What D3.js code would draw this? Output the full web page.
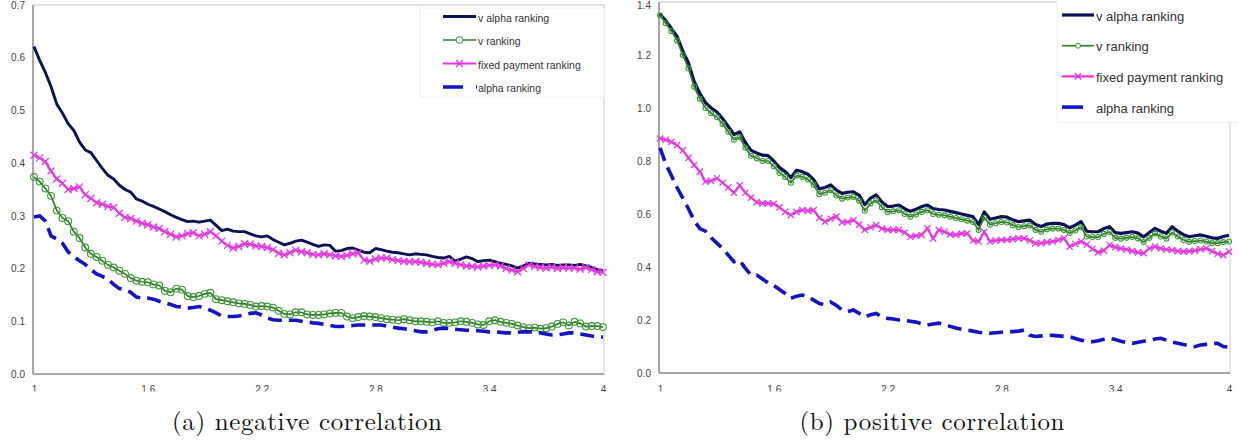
<!DOCTYPE html>
<html>
<head>
<meta charset="utf-8">
<script src="https://cdn.jsdelivr.net/npm/d3@7"></script>
<style>
  body { margin: 0; background: #fff; }
  svg { display: block; }
</style>
</head>
<body>
<div id="chart"></div>
<script>
// x grid of the runs: 101 points from 1 to 4 (step 0.03)
var xValues = d3.range(101).map(function(i) { return 1 + i * 0.03; });
var xTickLabels = [1, 1.6, 2.2, 2.8, 3.4, 4];
var seriesNames = ["v alpha ranking", "v ranking", "fixed payment ranking", "alpha ranking"];

var negTicks = [0, 0.1, 0.2, 0.3, 0.4, 0.5, 0.6, 0.7];
var posTicks = [0, 0.2, 0.4, 0.6, 0.8, 1.0, 1.2, 1.4];

// (a) negative correlation
var negVAlpha = [
  .621, .595, .572, .545, .512, .495, .475, .462, .440, .425,
  .420, .405, .390, .377, .370, .358, .350, .345, .332, .328,
  .322, .318, .313, .308, .302, .297, .293, .289, .290, .288,
  .290, .292, .282, .272, .275, .271, .270, .270, .266, .262,
  .260, .262, .255, .250, .245, .248, .252, .254, .250, .246,
  .242, .245, .244, .233, .234, .238, .239, .235, .231, .230,
  .238, .236, .233, .231, .230, .228, .226, .228, .227, .226,
  .223, .221, .220, .223, .214, .218, .222, .219, .213, .215,
  .216, .213, .210, .208, .205, .201, .205, .210, .209, .208,
  .207, .208, .206, .207, .207, .206, .208, .205, .202, .198, .196];

var negV = [
  .374, .365, .352, .338, .310, .296, .290, .270, .258, .240,
  .228, .222, .215, .207, .202, .196, .190, .182, .177, .175,
  .174, .170, .168, .158, .155, .162, .160, .148, .146, .148,
  .152, .154, .142, .140, .138, .136, .134, .133, .131, .128,
  .129, .128, .126, .120, .114, .113, .117, .117, .113, .112,
  .112, .113, .115, .116, .116, .109, .106, .108, .110, .109,
  .108, .106, .104, .103, .102, .104, .102, .100, .100, .099,
  .098, .100, .097, .097, .098, .100, .099, .097, .094, .093,
  .100, .102, .099, .097, .095, .092, .089, .087, .088, .086,
  .087, .090, .095, .098, .092, .099, .096, .090, .091, .091, .089];

var negFixed = [
  .415, .410, .403, .385, .370, .362, .350, .352, .355, .340,
  .333, .325, .322, .318, .316, .305, .297, .295, .290, .286,
  .283, .279, .276, .270, .265, .260, .262, .266, .268, .262,
  .265, .270, .262, .252, .244, .239, .242, .247, .246, .243,
  .242, .240, .236, .229, .226, .230, .235, .232, .230, .227,
  .226, .228, .226, .224, .223, .225, .228, .230, .216, .214,
  .218, .220, .220, .217, .215, .214, .213, .213, .212, .210,
  .208, .207, .210, .213, .210, .207, .205, .204, .203, .205,
  .206, .207, .205, .200, .197, .194, .200, .207, .204, .202,
  .201, .203, .200, .202, .201, .201, .199, .202, .198, .194, .193];

var negAlpha = [
  .298, .300, .290, .262, .256, .248, .232, .222, .215, .208,
  .198, .190, .185, .180, .170, .162, .160, .155, .146, .144,
  .144, .142, .138, .135, .132, .128, .127, .125, .126, .128,
  .125, .121, .116, .110, .109, .109, .110, .112, .115, .116,
  .112, .106, .103, .102, .102, .102, .102, .100, .099, .097,
  .096, .094, .092, .090, .090, .091, .092, .093, .093, .093,
  .093, .093, .091, .089, .087, .086, .084, .082, .080, .080,
  .083, .086, .087, .086, .085, .084, .083, .083, .082, .081,
  .080, .080, .079, .078, .078, .079, .080, .080, .080, .078,
  .076, .074, .074, .076, .078, .078, .076, .074, .072, .071, .070];

// (b) positive correlation
var posVAlpha = [
  1.355, 1.330, 1.300, 1.270, 1.215, 1.170, 1.100, 1.055, 1.020, 1.000,
  .985, .960, .930, .900, .910, .870, .840, .830, .822, .820,
  .800, .775, .760, .737, .765, .760, .750, .730, .695, .700,
  .710, .690, .678, .682, .684, .670, .635, .660, .672, .645,
  .628, .630, .634, .620, .610, .618, .628, .634, .620, .617,
  .615, .610, .605, .600, .595, .590, .560, .608, .580, .585,
  .590, .588, .578, .571, .574, .577, .560, .553, .562, .565,
  .565, .560, .548, .558, .571, .535, .533, .533, .545, .552,
  .530, .527, .530, .533, .528, .514, .530, .546, .535, .527,
  .552, .535, .522, .514, .518, .521, .516, .510, .508, .515, .520];

var posV = [
  1.350, 1.320, 1.290, 1.255, 1.200, 1.150, 1.080, 1.035, 1.000, .980,
  .965, .940, .910, .880, .890, .850, .820, .810, .800, .800,
  .780, .755, .740, .718, .745, .740, .730, .710, .675, .680,
  .690, .670, .658, .662, .664, .650, .612, .640, .652, .625,
  .608, .610, .614, .600, .590, .598, .608, .614, .600, .597,
  .595, .590, .585, .580, .575, .570, .540, .586, .560, .565,
  .570, .568, .558, .551, .554, .557, .540, .533, .542, .545,
  .545, .540, .528, .538, .550, .515, .513, .513, .525, .532,
  .510, .507, .510, .513, .508, .494, .510, .526, .515, .507,
  .530, .515, .502, .495, .498, .500, .496, .490, .490, .494, .496];

var posFixed = [
  .885, .880, .872, .860, .840, .812, .785, .760, .722, .725,
  .735, .718, .700, .680, .708, .680, .662, .645, .640, .640,
  .638, .625, .608, .596, .608, .615, .612, .615, .585, .571,
  .582, .590, .568, .570, .577, .560, .540, .550, .558, .545,
  .540, .540, .540, .530, .514, .518, .521, .546, .508, .540,
  .533, .523, .521, .526, .527, .500, .496, .533, .496, .500,
  .502, .502, .505, .508, .508, .500, .489, .490, .494, .496,
  .502, .508, .477, .487, .496, .485, .468, .455, .462, .483,
  .475, .470, .466, .460, .455, .452, .470, .477, .470, .466,
  .464, .460, .458, .460, .462, .467, .470, .460, .450, .445, .458];

var posAlpha = [
  .850, .790, .745, .700, .660, .620, .575, .545, .535, .510,
  .490, .470, .445, .420, .425, .395, .370, .370, .355, .340,
  .330, .315, .300, .282, .290, .294, .288, .275, .262, .258,
  .268, .255, .238, .232, .238, .225, .212, .220, .225, .212,
  .206, .204, .200, .198, .195, .192, .186, .181, .185, .188,
  .182, .176, .170, .165, .162, .158, .154, .151, .150, .152,
  .154, .156, .156, .158, .162, .142, .138, .140, .143, .142,
  .140, .138, .137, .130, .124, .120, .118, .122, .127, .131,
  .126, .120, .115, .112, .116, .120, .124, .128, .131, .124,
  .117, .112, .108, .102, .099, .106, .108, .110, .112, .100, .098];

var width = 1239;
var height = 442;

var svg = d3.select("#chart")
  .append("svg")
    .attr("width", width)
    .attr("height", height);

// x labels are cut at the bottom in the original
svg.append("clipPath")
    .attr("id", "xlabel-clip")
  .append("rect")
    .attr("x", 0)
    .attr("y", 378)
    .attr("width", width)
    .attr("height", 13.5);

function crossPath(s) {
  return "M" + (-s) + "," + (-s) + "L" + s + "," + s + "M" + (-s) + "," + s + "L" + s + "," + (-s);
}

function drawPanel(p, vAlpha, v, fixed, alpha) {
  var g = svg.append("g");

  var x = d3.scaleLinear().domain([1, 4]).range([p.left + 1, p.right - 1]);
  var y = d3.scaleLinear().domain([0, p.yMax]).range([p.bottom, p.top]);

  // frame: light top/right border, darker left/bottom axes
  g.append("line")
    .attr("x1", p.left).attr("x2", p.right)
    .attr("y1", p.top).attr("y2", p.top)
    .attr("stroke", "#c4c4c4").attr("stroke-width", 1.2);
  g.append("line")
    .attr("x1", p.right).attr("x2", p.right)
    .attr("y1", p.top).attr("y2", p.bottom)
    .attr("stroke", "#d4d4d4").attr("stroke-width", 1.2);
  g.append("line")
    .attr("x1", p.left).attr("x2", p.left)
    .attr("y1", p.top).attr("y2", p.bottom)
    .attr("stroke", "#8a8a8a").attr("stroke-width", 1.5);
  g.append("line")
    .attr("x1", p.left).attr("x2", p.right)
    .attr("y1", p.bottom).attr("y2", p.bottom)
    .attr("stroke", "#8a8a8a").attr("stroke-width", 1.5);

  var yAxis = d3.axisLeft(y).tickValues(p.yTicks).tickSize(0).tickPadding(0)
    .tickFormat(d3.format(".1f"));
  var ya = g.append("g")
    .attr("transform", "translate(" + (p.left - 8) + ",0)")
    .call(yAxis);
  ya.select(".domain").remove();
  ya.selectAll("text")
    .style("font-family", "Liberation Sans, Arial, sans-serif")
    .style("font-size", "10px")
    .attr("fill", "#444")
    // keep the top label inside the picture
    .attr("y", function(d) { return Math.max(0, 5 - y(d)); });

  var xAxis = d3.axisBottom(x).tickValues(xTickLabels).tickSize(0).tickPadding(0)
    .tickFormat(d3.format(""));
  var xa = g.append("g")
    .attr("clip-path", "url(#xlabel-clip)")
    .append("g")
    .attr("transform", "translate(0," + 386 + ")")
    .call(xAxis);
  xa.select(".domain").remove();
  xa.selectAll("text")
    .style("font-family", "Liberation Sans, Arial, sans-serif")
    .style("font-size", "10px")
    .attr("fill", "#444");

  var line = d3.line()
    .x(function(d, i) { return x(xValues[i]); })
    .y(function(d) { return y(d); });

  // v alpha ranking
  g.append("path")
    .datum(vAlpha)
    .attr("fill", "none")
    .attr("stroke", "#0c1254")
    .attr("stroke-width", p.navyWidth)
    .attr("stroke-linejoin", "round")
    .attr("d", line);

  // v ranking
  g.append("path")
    .datum(v)
    .attr("fill", "none")
    .attr("stroke", "#2f7f2a")
    .attr("stroke-width", 1.7)
    .attr("d", line);
  g.append("g")
    .selectAll("circle")
    .data(v)
    .enter()
    .append("circle")
    .attr("cx", function(d, i) { return x(xValues[i]); })
    .attr("cy", function(d) { return y(d); })
    .attr("r", p.circleR)
    .attr("fill", "none")
    .attr("stroke", "#3a9634")
    .attr("stroke-width", 1.1);

  // fixed payment ranking
  g.append("path")
    .datum(fixed)
    .attr("fill", "none")
    .attr("stroke", "#ee2ee8")
    .attr("stroke-width", 2.2)
    .attr("d", line);
  g.append("g")
    .selectAll("path")
    .data(fixed)
    .enter()
    .append("path")
    .attr("transform", function(d, i) { return "translate(" + x(xValues[i]) + "," + y(d) + ")"; })
    .attr("d", crossPath(p.crossS))
    .attr("stroke", "#e33ae0")
    .attr("stroke-width", 1.3);

  // alpha ranking
  g.append("path")
    .datum(alpha)
    .attr("fill", "none")
    .attr("stroke", "#1414c4")
    .attr("stroke-width", 3.6)
    .attr("stroke-dasharray", "14,7")
    .attr("d", line);

  // legend
  var L = p.legend;
  g.append("rect")
    .attr("x", L.x).attr("y", L.y)
    .attr("width", L.w).attr("height", L.h)
    .attr("fill", "#fff")
    .attr("stroke", "#efefef");

  var legendFont = function(sel) {
    sel.style("font-family", "Liberation Sans, Arial, sans-serif")
      .style("font-size", L.fontSize + "px")
      .attr("fill", "#333")
      .attr("dominant-baseline", "central");
  };

  seriesNames.forEach(function(name, k) {
    var ly = L.rowY0 + k * L.rowDy;
    var mid = (L.x0 + L.x1) / 2;
    if (k === 0) {
      g.append("line").attr("x1", L.x0).attr("x2", L.x1).attr("y1", ly).attr("y2", ly)
        .attr("stroke", "#0c1254").attr("stroke-width", p.navyWidth);
    } else if (k === 1) {
      g.append("line").attr("x1", L.x0).attr("x2", L.x1).attr("y1", ly).attr("y2", ly)
        .attr("stroke", "#2f7f2a").attr("stroke-width", 1.7);
      g.append("circle").attr("cx", mid).attr("cy", ly).attr("r", p.circleR)
        .attr("fill", "#fff").attr("stroke", "#3a9634");
    } else if (k === 2) {
      g.append("line").attr("x1", L.x0).attr("x2", L.x1).attr("y1", ly).attr("y2", ly)
        .attr("stroke", "#ee2ee8").attr("stroke-width", 2.2);
      g.append("path").attr("transform", "translate(" + mid + "," + ly + ")")
        .attr("d", crossPath(p.crossS)).attr("stroke", "#e33ae0").attr("stroke-width", 1.3);
    } else {
      g.append("line").attr("x1", L.x0).attr("x2", L.textX - 1).attr("y1", ly).attr("y2", ly)
        .attr("stroke", "#1414c4").attr("stroke-width", 3.6)
        .attr("stroke-dasharray", L.dash);
    }
    g.append("text")
      .attr("x", L.textX)
      .attr("y", ly + 1)
      .text(name)
      .call(legendFont);
  });

  // caption
  g.append("text")
    .attr("x", p.captionX)
    .attr("y", 430)
    .attr("text-anchor", "middle")
    .attr("textLength", p.captionW)
    .attr("lengthAdjust", "spacing")
    .style("font-family", "Latin Modern Roman, CMU Serif, Liberation Serif, serif")
    .style("font-size", "25px")
    .attr("fill", "#111")
    .text(p.caption);
}

drawPanel({
  left: 33, right: 604, top: 5, bottom: 374, yMax: 0.7, yTicks: negTicks,
  navyWidth: 2.9, circleR: 3.4, crossS: 3.5,
  legend: { x: 420, y: 8, w: 184, h: 89, x0: 443, x1: 476, textX: 478,
            rowY0: 16.5, rowDy: 23.5, fontSize: 10.5, dash: "20,13" },
  caption: "(a) negative correlation", captionX: 307, captionW: 270
}, negVAlpha, negV, negFixed, negAlpha);

drawPanel({
  left: 659, right: 1230, top: 2, bottom: 373, yMax: 1.4, yTicks: posTicks,
  navyWidth: 3.2, circleR: 2.5, crossS: 3.1,
  legend: { x: 1057, y: -1, w: 190, h: 123, x0: 1062, x1: 1094, textX: 1096,
            rowY0: 15, rowDy: 30.7, fontSize: 13, dash: "21,12" },
  caption: "(b) positive correlation", captionX: 932, captionW: 265
}, posVAlpha, posV, posFixed, posAlpha);
</script>
</body>
</html>
